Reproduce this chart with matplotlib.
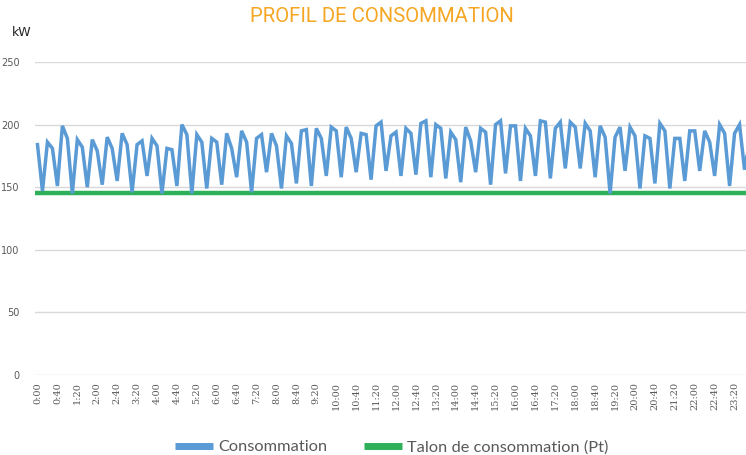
import matplotlib
matplotlib.use('Agg')
import matplotlib.pyplot as plt
import numpy as np

# ---------------------------------------------------------------------------
# Data (kW, 10-minute steps from 0:00)
# ---------------------------------------------------------------------------

consommation = [
    184, 147, 186, 181, 151, 199, 189, 145, 188, 182, 150, 188,
    179, 152, 190, 181, 155, 193, 184, 146, 184, 187, 159, 189,
    183, 145, 181, 180, 151, 200, 192, 145, 192, 186, 149, 189,
    186, 152, 193, 181, 158, 195, 186, 146, 189, 192, 162, 193,
    183, 149, 191, 185, 153, 195, 196, 151, 197, 189, 159, 198,
    195, 158, 198, 189, 162, 193, 192, 156, 199, 202, 163, 191,
    194, 159, 197, 193, 160, 201, 203, 158, 200, 197, 157, 194,
    188, 154, 198, 187, 162, 197, 194, 152, 200, 203, 161, 199,
    199, 155, 197, 191, 159, 203, 202, 157, 197, 202, 165, 202,
    198, 165, 201, 195, 158, 199, 190, 145, 190, 198, 163, 198,
    191, 149, 191, 189, 153, 201, 195, 149, 189, 189, 155, 195,
    195, 163, 195, 186, 159, 200, 193, 151, 193, 200, 164, 186,
]
talon = 145
times = [f"{m // 60}:{m % 60:02d}" for m in range(0, 24 * 60, 10)]

BLUE = '#5b9bd5'
GREEN = '#2eb05a'
GRAY = '#595959'

# ---------------------------------------------------------------------------
# Figure
# ---------------------------------------------------------------------------

fig = plt.figure(figsize=(7.46, 4.55), dpi=100)
# plot area runs slightly past the right edge, as in the cropped original
ax = fig.add_axes([35 / 746, 1 - 375 / 455, 717 / 746, 313 / 455])

x = np.arange(len(consommation))
ax.plot(x, consommation, color=BLUE, lw=2.5, solid_joinstyle='miter',
        label='Consommation', zorder=3)
ax.plot(x, [talon] * len(x), color=GREEN, lw=3.2,
        label='Talon de consommation (Pt)', zorder=2)

ax.set_xlim(-0.5, len(x) - 0.5)
ax.set_ylim(0, 250)
ax.set_yticks(range(0, 251, 50))
ax.grid(axis='y', color='#d9d9d9', lw=1)
ax.set_axisbelow(True)
for s in ax.spines.values():
    s.set_visible(False)

tick_pos = x[::4]
ax.set_xticks(tick_pos)
ax.set_xticklabels([times[i] for i in tick_pos], rotation=90, fontsize=7,
                   color=GRAY, va='top', family='DejaVu Serif')
ax.tick_params(axis='x', length=0, pad=5)
ax.tick_params(axis='y', length=0, pad=11, labelsize=7, labelcolor=GRAY)

fig.text(382 / 746, 1 - 17 / 455, 'PROFIL DE CONSOMMATION', color='#f5a623',
         fontsize=14.7, ha='center', va='center', family='Roboto',
         fontstretch='condensed')
fig.text(12 / 746, 1 - 33 / 455, 'kW', fontsize=9, color='#222222',
         ha='left', va='center')

leg = fig.legend(loc='center', bbox_to_anchor=(392 / 746, 8 / 455), ncol=2,
                 frameon=False, handlelength=2.3, columnspacing=2.2,
                 handletextpad=0.35,
                 prop={'family': 'Lato', 'size': 11.8})
for h in leg.legend_handles:
    h.set_linewidth(5)
    h.set_solid_capstyle('butt')
for t in leg.get_texts():
    t.set_color(GRAY)

fig.savefig('out.png', dpi=100)
